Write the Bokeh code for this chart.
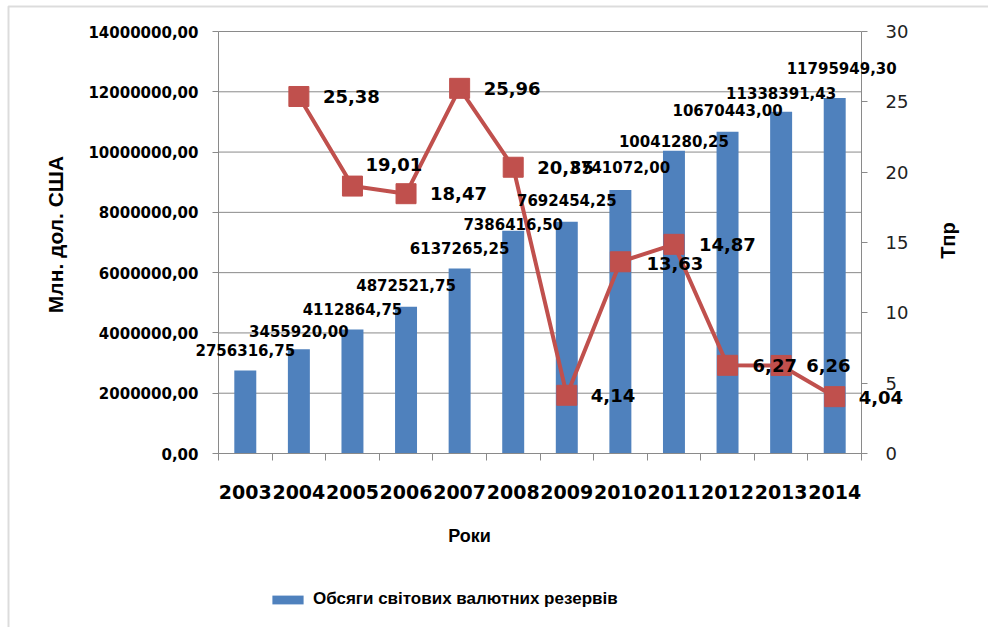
import math
from bokeh.plotting import figure
from bokeh.models import (Range1d, LinearAxis, FixedTicker, CustomJSTickFormatter,
                          ColumnDataSource, Legend, LegendItem, LabelSet, Label,
                          BoxAnnotation)
from bokeh.core.properties import value
from bokeh.embed import file_html
from bokeh.resources import INLINE

# ---- data ----
years = ["2003", "2004", "2005", "2006", "2007", "2008",
         "2009", "2010", "2011", "2012", "2013", "2014"]
reserves = [2756316.75, 3455920.00, 4112864.75, 4872521.75, 6137265.25, 7386416.50,
            7692454.25, 8741072.00, 10041280.25, 10670443.00, 11338391.43, 11795949.30]
tpr = [None, 25.38, 19.01, 18.47, 25.96, 20.35, 4.14, 13.63, 14.87, 6.27, 6.26, 4.04]
left_ticks = [0, 2000000, 4000000, 6000000, 8000000, 10000000, 12000000, 14000000]
right_ticks = [0, 5, 10, 15, 20, 25, 30]
y_max, t_max = 14000000, 30
series_name = "Обсяги світових валютних резервів"
y_title = "Млн. дол. США"
t_title = "Тпр"
x_title = "Роки"

# label nudges (pixels, positive = up), styling only
bar_label_dx = [0, 0, 0, 0, 0, 0, 0, 0, 0, 0, 0, 7]
bar_label_dy = [20, 18, 21, 22, 21, 7, 22, 23, 10, 22, 19, 30]
line_label_dx = [24, 13, 24, 24, 24, 24, 26, 25, 25, 25, 24]
line_label_dy = [0, 22, 0, 0, 0, 0, -2, 0, 0, 0, -1]

BLUE = "#4F81BD"
RED = "#C0504D"
GRAY = "#8a8a8a"

# ---- layout geometry (pixels) ----
W, H = 988, 627
FL, FR, FT, FB = 218, 861, 31, 453   # plot area edges

n = len(years)
px_x = (FR - FL) / n
px_y = (FB - FT) / y_max
px_t = (FB - FT) / t_max

xs = [i + 0.5 for i in range(n)]
bar_src = ColumnDataSource(dict(
    x=xs, top=reserves,
    label=[f"{v:.2f}".replace(".", ",") for v in reserves],
    dx=bar_label_dx, dy=bar_label_dy))

tx = [x for x, t in zip(xs, tpr) if t is not None]
tv = [t for t in tpr if t is not None]
line_src = ColumnDataSource(dict(
    x=tx, y=tv, label=[f"{v:.2f}".replace(".", ",") for v in tv],
    dx=line_label_dx, dy=line_label_dy))

grid_src = ColumnDataSource(dict(x0=[0] * len(left_ticks), x1=[n] * len(left_ticks),
                                 y=left_ticks))

p = figure(width=W, height=H,
           x_range=Range1d(-FL / px_x, n + (W - FR) / px_x),
           y_range=Range1d(-(H - FB) / px_y, y_max + FT / px_y),
           output_backend="svg", toolbar_location=None, min_border=0)
p.extra_y_ranges = {"t": Range1d(-(H - FB) / px_t, t_max + FT / px_t)}
p.outline_line_color = None
p.background_fill_color = "white"
p.border_fill_color = "white"
p.xgrid.visible = False
p.ygrid.visible = False

# x axis
xa = p.xaxis[0]
xa.fixed_location = 0
xa.bounds = (0, n)
xa.ticker = FixedTicker(ticks=xs, minor_ticks=list(range(n + 1)))
xa.formatter = CustomJSTickFormatter(args=dict(labels=years),
                                     code="return labels[Math.floor(tick)]")
xa.major_tick_out = 0
xa.major_tick_in = 0
xa.minor_tick_out = 7
xa.minor_tick_in = 0
xa.minor_tick_line_color = GRAY
xa.axis_line_color = GRAY
xa.major_label_text_font = "DejaVu Sans"
xa.major_label_text_font_style = "bold"
xa.major_label_text_font_size = "19px"
xa.major_label_text_color = "black"
xa.major_label_standoff = 24

# left axis
ya = p.yaxis[0]
ya.fixed_location = 0
ya.bounds = (0, y_max)
ya.ticker = FixedTicker(ticks=left_ticks)
ya.formatter = CustomJSTickFormatter(code="return tick.toFixed(2).replace('.', ',')")
ya.major_tick_out = 6
ya.major_tick_in = 0
ya.minor_tick_out = 0
ya.minor_tick_in = 0
ya.major_tick_line_color = GRAY
ya.axis_line_color = GRAY
ya.major_label_text_font = "DejaVu Sans"
ya.major_label_text_font_style = "bold"
ya.major_label_text_font_size = "15px"
ya.major_label_text_color = "black"
ya.major_label_standoff = 14

# right axis
ra = LinearAxis(y_range_name="t", ticker=FixedTicker(ticks=right_ticks))
ra.fixed_location = n
ra.bounds = (0, t_max)
ra.major_tick_out = 6
ra.major_tick_in = 0
ra.minor_tick_out = 0
ra.minor_tick_in = 0
ra.major_tick_line_color = GRAY
ra.axis_line_color = GRAY
ra.major_label_text_font = "DejaVu Sans"
ra.major_label_text_font_size = "18px"
ra.major_label_text_color = "#222222"
ra.major_label_standoff = 18
p.add_layout(ra, "right")

# grid lines (only across the plot area)
p.segment(x0="x0", x1="x1", y0="y", y1="y", source=grid_src,
          line_color=GRAY, line_width=1)

# bars
bars = p.vbar(x="x", top="top", width=0.41, source=bar_src,
              fill_color=BLUE, line_color=None)

# line
p.line(x="x", y="y", source=line_src, y_range_name="t", line_color=RED, line_width=4)
p.scatter(x="x", y="y", source=line_src, y_range_name="t", marker="square",
          size=20, fill_color=RED, line_color=RED)

# value labels
p.add_layout(LabelSet(x="x", y="top", text="label", x_offset="dx", y_offset="dy",
                      source=bar_src, text_align="center", text_baseline="middle",
                      text_font=value("DejaVu Sans"), text_font_style="bold",
                      text_font_size="15px", text_color="black"))
p.add_layout(LabelSet(x="x", y="y", text="label", x_offset="dx", y_offset="dy",
                      source=line_src, y_range_name="t",
                      text_align="left", text_baseline="middle",
                      text_font=value("DejaVu Sans"), text_font_style="bold",
                      text_font_size="18px", text_color="black"))

# axis titles
p.add_layout(Label(x=55, y=H - 234, x_units="screen", y_units="screen", text=y_title,
                   angle=math.pi / 2, text_align="center", text_baseline="middle",
                   text_font="Liberation Sans", text_font_style="bold",
                   text_font_size="21px", text_color="black"))
p.add_layout(Label(x=947, y=H - 240, x_units="screen", y_units="screen", text=t_title,
                   angle=math.pi / 2, text_align="center", text_baseline="middle",
                   text_font="Liberation Sans", text_font_style="bold",
                   text_font_size="20px", text_color="black"))
p.add_layout(Label(x=469, y=H - 535, x_units="screen", y_units="screen", text=x_title,
                   text_align="center", text_baseline="middle",
                   text_font="Liberation Sans", text_font_style="bold",
                   text_font_size="18px", text_color="black"))

# legend
legend = Legend(items=[LegendItem(label=series_name, renderers=[bars])],
                location=(268, H - 609), orientation="horizontal",
                border_line_color=None, background_fill_alpha=0,
                padding=0, margin=0, spacing=0,
                glyph_width=39, glyph_height=11, label_standoff=6,
                label_text_font="Liberation Sans", label_text_font_style="bold",
                label_text_font_size="17px", label_text_color="black")
p.add_layout(legend, "center")

# chart border (top and left edges visible)
p.add_layout(BoxAnnotation(left=8, right=W + 200, top=H - 6, bottom=-200,
                           left_units="screen", right_units="screen",
                           top_units="screen", bottom_units="screen",
                           fill_alpha=0, line_color="#8c8c8c", line_width=2))

open("out.html", "w").write(file_html(p, INLINE))
